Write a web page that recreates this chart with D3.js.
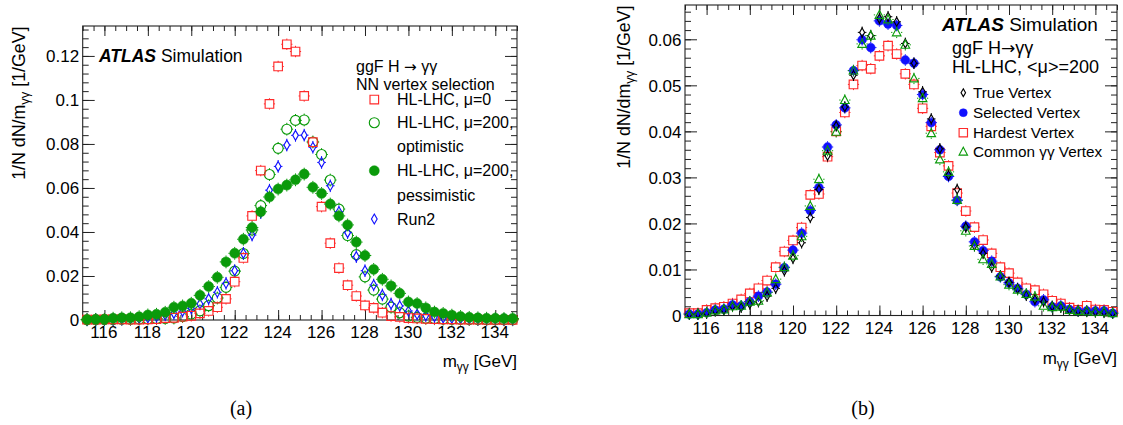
<!DOCTYPE html>
<html><head><meta charset="utf-8">
<script src="https://cdn.jsdelivr.net/npm/d3@7"></script>
<style>
body{margin:0;background:#fff;}
svg text{font-family:"Liberation Sans",Arial,Helvetica,sans-serif;fill:#000;}
</style></head>
<body><svg id="c" width="1123" height="425"></svg>
<script>
// bin centres (0.4 GeV bins, 115-135 GeV)
const massBins = [115.2,115.6,116.0,116.4,116.8,117.2,117.6,118.0,118.4,118.8,119.2,119.6,120.0,120.4,120.8,121.2,121.6,122.0,122.4,122.8,123.2,123.6,124.0,124.4,124.8,125.2,125.6,126.0,126.4,126.8,127.2,127.6,128.0,128.4,128.8,129.2,129.6,130.0,130.4,130.8,131.2,131.6,132.0,132.4,132.8,133.2,133.6,134.0,134.4,134.8];
const xTicks = [116,118,120,122,124,126,128,130,132,134];
const yTicksA = [0,0.02,0.04,0.06,0.08,0.1,0.12];
const yTicksB = [0,0.01,0.02,0.03,0.04,0.05,0.06];

// panel (a)
const hlMu0 = [0.0002,0.0002,0.0003,0.0003,0.0003,0.0002,0.0002,0.0003,0.0004,0.0009,0.001,0.0015,0.0019,0.003,0.0041,0.0058,0.0096,0.0174,0.0282,0.0473,0.0679,0.0982,0.1152,0.1253,0.122,0.1018,0.0808,0.0515,0.0349,0.0236,0.0158,0.0109,0.0066,0.0055,0.0033,0.0018,0.0014,0.0009,0.0007,0.0005,0.0004,0.0003,0.0003,0.0002,0.0002,0.0002,0.0001,0.0001,0.0001,0.0001];
const hlMu200Opt = [0.0001,0.0001,0.0002,0.0002,0.0003,0.0003,0.0004,0.0005,0.0006,0.0007,0.0009,0.0016,0.0027,0.0042,0.0065,0.01,0.0148,0.0222,0.0302,0.0409,0.052,0.0661,0.078,0.0867,0.0907,0.0909,0.0809,0.0752,0.0636,0.0504,0.0384,0.0297,0.0196,0.0136,0.0095,0.0058,0.0033,0.0018,0.0012,0.0008,0.0006,0.0004,0.0003,0.0003,0.0002,0.0002,0.0001,0.0001,0.0001,0.0001];
const hlMu200Pes = [0.0002,0.0003,0.0003,0.0008,0.001,0.001,0.0015,0.0023,0.0026,0.0035,0.0058,0.0064,0.0076,0.0112,0.0152,0.0194,0.0264,0.0303,0.0367,0.042,0.0492,0.0559,0.0595,0.0613,0.0637,0.0663,0.0603,0.0575,0.0527,0.0473,0.0432,0.0354,0.0293,0.023,0.0185,0.0155,0.0121,0.0082,0.0075,0.0055,0.0036,0.003,0.0022,0.0016,0.0012,0.001,0.0008,0.0008,0.0007,0.0007];
const run2 = [0.0001,0.0002,0.0002,0.0003,0.0004,0.0005,0.0007,0.001,0.0015,0.0023,0.003,0.004,0.0053,0.0073,0.0096,0.0126,0.0167,0.0224,0.0303,0.0386,0.0488,0.059,0.0698,0.0795,0.0839,0.084,0.0785,0.0716,0.061,0.0492,0.0397,0.0288,0.0224,0.0159,0.0114,0.0073,0.0064,0.0041,0.0026,0.002,0.0015,0.001,0.0008,0.0006,0.0005,0.0004,0.0003,0.0003,0.0002,0.0002];

// panel (b)
const trueVtx = [0.0003,0.0003,0.0005,0.001,0.0012,0.002,0.0018,0.0025,0.003,0.0042,0.0059,0.0097,0.0124,0.0158,0.0213,0.0274,0.0347,0.0412,0.0453,0.0522,0.0615,0.0608,0.0645,0.0649,0.0638,0.0591,0.0548,0.0486,0.0427,0.0362,0.0305,0.0274,0.0192,0.0152,0.0135,0.0105,0.0086,0.0072,0.0058,0.0044,0.0035,0.003,0.002,0.0018,0.0012,0.001,0.0009,0.0008,0.0007,0.0005];
const selVtx = [0.0003,0.0003,0.0006,0.0012,0.0014,0.0023,0.0021,0.003,0.0042,0.0051,0.0068,0.0104,0.0142,0.0179,0.0228,0.0278,0.0366,0.0414,0.0451,0.0532,0.0599,0.0582,0.064,0.0633,0.063,0.0555,0.0548,0.048,0.0419,0.036,0.0302,0.025,0.0194,0.016,0.0141,0.0118,0.0084,0.0071,0.0059,0.0046,0.003,0.0034,0.0019,0.0021,0.0013,0.001,0.001,0.001,0.001,0.0005];
const hardVtx = [0.0005,0.0005,0.0012,0.0016,0.0019,0.0026,0.0035,0.0048,0.0059,0.0076,0.0105,0.0139,0.0163,0.0191,0.0262,0.0264,0.0345,0.04,0.0441,0.0502,0.0543,0.0536,0.0564,0.0586,0.0568,0.0525,0.0502,0.045,0.0411,0.0354,0.0325,0.0266,0.0227,0.0192,0.0164,0.0135,0.0105,0.0092,0.0072,0.0059,0.0055,0.0046,0.0032,0.0026,0.0017,0.0012,0.0021,0.0013,0.0012,0.0008];
const commonVtx = [0.0003,0.0003,0.0006,0.0011,0.0013,0.002,0.0021,0.003,0.0032,0.005,0.0079,0.0105,0.013,0.0172,0.0238,0.0296,0.0358,0.0399,0.0468,0.0532,0.059,0.0608,0.0653,0.0643,0.0615,0.0588,0.0515,0.0472,0.0396,0.0339,0.0312,0.0251,0.0184,0.0151,0.0122,0.0112,0.0085,0.0067,0.0056,0.0047,0.0041,0.0021,0.0018,0.0019,0.0012,0.001,0.0009,0.0008,0.0008,0.0005];

const RED = "#ff2a2a", GREEN = "#0a9a0a", BLUE = "#1010ff", BLACK = "#000";
const svg = d3.select("#c");

function markerPath(type, s) {
  if (type === "square") return `M${-s},${-s}H${s}V${s}H${-s}Z`;
  if (type === "diamond") return `M0,${-s*1.3}L${s*0.75},0L0,${s*1.3}L${-s*0.75},0Z`;
  if (type === "triangle") return `M0,${-s*1.05}L${s},${s*0.8}L${-s},${s*0.8}Z`;
  return null;
}
function extent(type, s) {
  if (type === "diamond") return [s*0.75, s*1.3];
  return [s, s];
}

function drawMarker(g, type, x, y, s, color, filled) {
  if (type === "circle") {
    g.append("circle").attr("cx", x).attr("cy", y).attr("r", s)
      .attr("fill", filled ? color : "none").attr("stroke", color).attr("stroke-width", filled ? 0.5 : 1.15);
  } else {
    g.append("path").attr("d", markerPath(type, s)).attr("transform", `translate(${x},${y})`)
      .attr("fill", filled ? color : "none").attr("stroke", color).attr("stroke-width", 1.15);
  }
}

function panel(cfg) {
  const x = d3.scaleLinear().domain([115, 135]).range([cfg.x0, cfg.x1]);
  const y = d3.scaleLinear().domain([0, cfg.ymax]).range([cfg.y1, cfg.y0]);
  const g = svg.append("g");
  const H = cfg.y1 - cfg.y0, W = cfg.x1 - cfg.x0;
  const minorX = d3.range(115, 135.01, 0.5);
  const minorY = d3.range(0, cfg.ymax, cfg.minorStep);

  g.append("g").attr("transform", `translate(0,${cfg.y1})`)
    .call(d3.axisBottom(x).tickValues(minorX).tickSize(-5).tickFormat(""))
    .call(a => a.select(".domain").remove());
  const bx = g.append("g").attr("transform", `translate(0,${cfg.y1})`)
    .call(d3.axisBottom(x).tickValues(xTicks).tickSize(-10).tickPadding(cfg.xPad).tickFormat(d3.format("d")));
  bx.select(".domain").remove();
  bx.selectAll("text").attr("font-size", 17).attr("font-family", "Liberation Sans, Arial").attr("fill", "#000").attr("dy", "0").attr("dx", "-1");
  g.append("g").attr("transform", `translate(0,${cfg.y0})`)
    .call(d3.axisTop(x).tickValues(minorX).tickSize(-5).tickFormat(""))
    .call(a => a.select(".domain").remove());
  g.append("g").attr("transform", `translate(0,${cfg.y0})`)
    .call(d3.axisTop(x).tickValues(xTicks).tickSize(-10).tickFormat(""))
    .call(a => a.select(".domain").remove());
  g.append("g").attr("transform", `translate(${cfg.x0},0)`)
    .call(d3.axisLeft(y).tickValues(minorY).tickSize(-6).tickFormat(""))
    .call(a => a.select(".domain").remove());
  const ly = g.append("g").attr("transform", `translate(${cfg.x0},0)`)
    .call(d3.axisLeft(y).tickValues(cfg.yTicks).tickSize(-12).tickFormat(d => d === 0 ? "0" : String(+d.toFixed(3))));
  ly.select(".domain").remove();
  ly.selectAll("text").attr("font-size", 17).attr("font-family", "Liberation Sans, Arial").attr("fill", "#000").attr("x", -3.5).attr("dy", "0.35em");
  g.append("g").attr("transform", `translate(${cfg.x1},0)`)
    .call(d3.axisRight(y).tickValues(minorY).tickSize(-6).tickFormat(""))
    .call(a => a.select(".domain").remove());
  g.append("g").attr("transform", `translate(${cfg.x1},0)`)
    .call(d3.axisRight(y).tickValues(cfg.yTicks).tickSize(-12).tickFormat(""))
    .call(a => a.select(".domain").remove());
  g.selectAll(".tick line").attr("stroke", "#222").attr("stroke-width", 1);

  g.append("rect").attr("x", cfg.x0).attr("y", cfg.y0).attr("width", W).attr("height", H)
    .attr("fill", "none").attr("stroke", "#222").attr("stroke-width", 1.1);

  const dg = g.append("g");
  cfg.series.forEach(s => {
    const [ex, ey] = extent(s.type, s.size);
    s.values.forEach((v, i) => {
      const cx = x(massBins[i]), cy = y(v);
      const xl = Math.min(x(massBins[i] - 0.2), cx - ex - 1.3);
      const xr = Math.max(x(massBins[i] + 0.2), cx + ex + 1.3);
      [[xl, cx - ex, cy, cy], [cx + ex, xr, cy, cy], [cx, cx, cy - ey - 1.4, cy - ey], [cx, cx, cy + ey, cy + ey + 1.4]]
        .forEach(([a, b, c, d]) => dg.append("line").attr("x1", a).attr("x2", b).attr("y1", c).attr("y2", d)
          .attr("stroke", s.color).attr("stroke-width", 1));
      drawMarker(dg, s.type, cx, cy, s.size, s.color, s.filled);
    });
  });

  const xt = g.append("text").attr("x", cfg.x1).attr("y", cfg.xTitleY).attr("text-anchor", "end").attr("font-size", 17);
  xt.append("tspan").text("m");
  xt.append("tspan").text("γγ").attr("font-size", 12).attr("dy", 4);
  xt.append("tspan").text(" [GeV]").attr("dy", -4);

  const yt = g.append("text").attr("transform", `translate(${cfg.yTitleX},${cfg.y0 + 0.5}) rotate(-90)`)
    .attr("text-anchor", "end").attr("font-size", 17.8);
  yt.append("tspan").text(cfg.yTitlePre);
  yt.append("tspan").text("γγ").attr("font-size", 13).attr("dy", 4);
  yt.append("tspan").text(" [1/GeV]").attr("dy", -4);
  return g;
}

// helper: text with a larger arrow glyph
function arrowText(g, x, y, size, pre, post) {
  const t = g.append("text").attr("x", x).attr("y", y).attr("font-size", size);
  t.append("tspan").text(pre);
  t.append("tspan").text("\u2192").style("font-family", "DejaVu Sans, sans-serif").attr("font-size", size * 0.95);
  t.append("tspan").text(post);
}

// ----- Panel (a)
const ga = panel({
  x0: 82.7, x1: 517, y0: 26, y1: 320, ymax: 0.1336, minorStep: 0.004, yTicks: yTicksA,
  xPad: 18, xTitleY: 367, yTitleX: 24.5, yTitlePre: "1/N dN/m",
  series: [
    {values: hlMu200Opt, type: "circle", color: GREEN, filled: false, size: 5},
    {values: run2, type: "diamond", color: BLUE, filled: false, size: 3.8},
    {values: hlMu0, type: "square", color: RED, filled: false, size: 4.3},
    {values: hlMu200Pes, type: "circle", color: GREEN, filled: true, size: 5}
  ]
});
const atA = ga.append("text").attr("x", 99).attr("y", 62).attr("font-size", 17.5);
atA.append("tspan").text("ATLAS").attr("font-weight", "bold").attr("font-style", "italic");
atA.append("tspan").text(" Simulation");
arrowText(ga, 356, 71.5, 16, "ggF H ", " \u03b3\u03b3");
ga.append("text").attr("x", 356).attr("y", 90).attr("font-size", 16).text("NN vertex selection");
const legA = [
  {label: "HL-LHC, \u03bc=0", y: 99.5, type: "square", color: RED, filled: false, size: 4.3},
  {label: "HL-LHC, \u03bc=200,", y: 122.7, type: "circle", color: GREEN, filled: false, size: 5},
  {label: "optimistic", y: 146, type: null},
  {label: "HL-LHC, \u03bc=200,", y: 170.7, type: "circle", color: GREEN, filled: true, size: 5},
  {label: "pessimistic", y: 195, type: null},
  {label: "Run2", y: 219, type: "diamond", color: BLUE, filled: false, size: 3.8}
];
legA.forEach(l => {
  if (l.type) drawMarker(ga, l.type, 374.3, l.y, l.size, l.color, l.filled);
  ga.append("text").attr("x", 397).attr("y", l.y + 5.7).attr("font-size", 16).text(l.label);
});

// ----- Panel (b)
const gb = panel({
  x0: 685, x1: 1117, y0: 5, y1: 315.5, ymax: 0.06745, minorStep: 0.002, yTicks: yTicksB,
  xPad: 18.5, xTitleY: 364, yTitleX: 629.5, yTitlePre: "1/N dN/dm",
  series: [
    {values: hardVtx, type: "square", color: RED, filled: false, size: 4.3},
    {values: selVtx, type: "circle", color: BLUE, filled: true, size: 4.4},
    {values: trueVtx, type: "diamond", color: BLACK, filled: false, size: 3.4},
    {values: commonVtx, type: "triangle", color: GREEN, filled: false, size: 4.3}
  ]
});
const atB = gb.append("text").attr("x", 942).attr("y", 31).attr("font-size", 19);
atB.append("tspan").text("ATLAS").attr("font-weight", "bold").attr("font-style", "italic");
atB.append("tspan").text(" Simulation");
arrowText(gb, 952, 54, 18, "ggF H", "\u03b3\u03b3");
gb.append("text").attr("x", 952).attr("y", 73).attr("font-size", 18).text("HL-LHC, <\u03bc>=200");
const legB = [
  {label: "True Vertex", y: 92.7, type: "diamond", color: BLACK, filled: false, size: 3},
  {label: "Selected Vertex", y: 112.7, type: "circle", color: BLUE, filled: true, size: 4},
  {label: "Hardest Vertex", y: 132.7, type: "square", color: RED, filled: false, size: 4.2},
  {label: "Common \u03b3\u03b3 Vertex", y: 151.7, type: "triangle", color: GREEN, filled: false, size: 4.2}
];
legB.forEach(l => {
  drawMarker(gb, l.type, 963.3, l.y, l.size, l.color, l.filled);
  gb.append("text").attr("x", 973).attr("y", l.y + 5.3).attr("font-size", 15.3).text(l.label);
});

svg.append("text").attr("x", 241).attr("y", 415).attr("text-anchor", "middle")
  .style("font-family", "Liberation Serif, Times New Roman, serif").attr("font-size", 20).text("(a)");
svg.append("text").attr("x", 863).attr("y", 415).attr("text-anchor", "middle")
  .style("font-family", "Liberation Serif, Times New Roman, serif").attr("font-size", 20).text("(b)");
</script></body></html>
